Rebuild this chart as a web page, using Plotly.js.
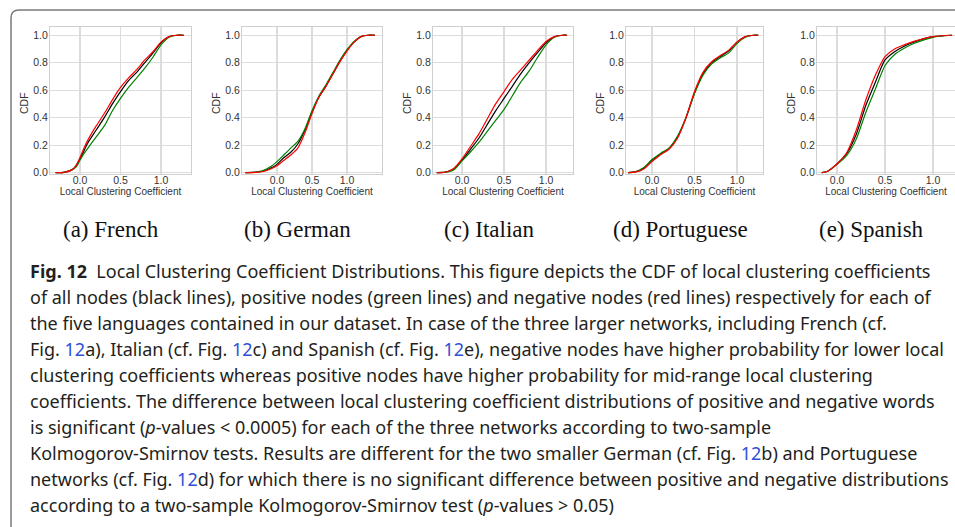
<!DOCTYPE html>
<html>
<head>
<meta charset="utf-8">
<script src="https://cdn.plot.ly/plotly-3.0.1.min.js"></script>
<style>html,body{margin:0;padding:0;background:#fff;}#chart{width:955px;height:527px;}</style>
</head>
<body>
<div id="chart"></div>
<script>
// ---- data ----
const languages = ["French", "German", "Italian", "Portuguese", "Spanish"];
const subLabels = ["(a) French", "(b) German", "(c) Italian", "(d) Portuguese", "(e) Spanish"];
const seriesNames = ["All nodes", "Positive nodes", "Negative nodes"];

// French
const frenchX     = [-0.3, -0.2, -0.1, -0.05, 0, 0.05, 0.1, 0.2, 0.3, 0.4, 0.5, 0.6, 0.7, 0.8, 0.9, 1.0, 1.1, 1.2, 1.28];
const frenchAll   = [0, 0.002, 0.02, 0.05, 0.10, 0.16, 0.22, 0.31, 0.40, 0.50, 0.59, 0.67, 0.73, 0.80, 0.87, 0.945, 0.99, 1.0, 1.0];
const frenchPos   = [0, 0.002, 0.02, 0.04, 0.09, 0.14, 0.18, 0.26, 0.34, 0.45, 0.54, 0.62, 0.69, 0.76, 0.84, 0.93, 0.985, 1.0, 1.0];
const frenchNeg   = [0, 0.002, 0.02, 0.05, 0.11, 0.18, 0.24, 0.34, 0.43, 0.53, 0.62, 0.69, 0.75, 0.82, 0.88, 0.95, 0.99, 1.0, 1.0];

// German
const germanX     = [-0.45, -0.3, -0.2, -0.1, 0, 0.1, 0.2, 0.3, 0.4, 0.5, 0.6, 0.7, 0.8, 0.9, 1.0, 1.1, 1.2, 1.3, 1.4];
const germanAll   = [0, 0.003, 0.01, 0.03, 0.06, 0.11, 0.15, 0.21, 0.31, 0.44, 0.55, 0.63, 0.72, 0.81, 0.89, 0.95, 0.99, 1.0, 1.0];
const germanPos   = [0, 0.004, 0.015, 0.04, 0.08, 0.13, 0.18, 0.23, 0.32, 0.45, 0.56, 0.64, 0.73, 0.82, 0.895, 0.955, 0.99, 1.0, 1.0];
const germanNeg   = [0, 0.002, 0.008, 0.025, 0.05, 0.09, 0.13, 0.18, 0.29, 0.43, 0.55, 0.63, 0.72, 0.81, 0.885, 0.95, 0.99, 1.0, 1.0];

// Italian
const italianX    = [-0.3, -0.2, -0.1, 0, 0.1, 0.2, 0.3, 0.4, 0.5, 0.6, 0.7, 0.8, 0.9, 1.0, 1.1, 1.2, 1.25];
const italianAll  = [0, 0.003, 0.025, 0.09, 0.17, 0.25, 0.35, 0.45, 0.54, 0.63, 0.72, 0.80, 0.875, 0.945, 0.99, 1.0, 1.0];
const italianPos  = [0, 0.003, 0.02, 0.085, 0.15, 0.22, 0.30, 0.38, 0.46, 0.56, 0.66, 0.74, 0.84, 0.93, 0.985, 1.0, 1.0];
const italianNeg  = [0, 0.003, 0.03, 0.10, 0.19, 0.28, 0.39, 0.50, 0.59, 0.68, 0.75, 0.82, 0.89, 0.955, 0.99, 1.0, 1.0];

// Portuguese
const portugueseX   = [-0.28, -0.2, -0.1, 0, 0.1, 0.2, 0.3, 0.4, 0.5, 0.6, 0.7, 0.8, 0.9, 1.0, 1.1, 1.2, 1.25];
const portugueseAll = [0, 0.005, 0.03, 0.09, 0.135, 0.175, 0.26, 0.40, 0.58, 0.72, 0.80, 0.845, 0.885, 0.95, 0.99, 1.0, 1.0];
const portuguesePos = [0, 0.006, 0.035, 0.095, 0.14, 0.18, 0.265, 0.40, 0.575, 0.71, 0.79, 0.835, 0.87, 0.94, 0.985, 1.0, 1.0];
const portugueseNeg = [0, 0.004, 0.025, 0.08, 0.13, 0.17, 0.25, 0.40, 0.59, 0.73, 0.805, 0.85, 0.89, 0.95, 0.99, 1.0, 1.0];

// Spanish
const spanishX    = [-0.16, -0.1, 0, 0.1, 0.2, 0.3, 0.4, 0.5, 0.6, 0.7, 0.8, 1.0, 1.2];
const spanishAll  = [0, 0.01, 0.065, 0.14, 0.28, 0.49, 0.66, 0.82, 0.88, 0.92, 0.95, 0.99, 1.0];
const spanishPos  = [0, 0.01, 0.06, 0.125, 0.245, 0.44, 0.61, 0.78, 0.86, 0.905, 0.94, 0.985, 1.0];
const spanishNeg  = [0, 0.01, 0.065, 0.145, 0.31, 0.53, 0.71, 0.845, 0.90, 0.93, 0.955, 0.99, 1.0];

const yTickVals = [0, 0.2, 0.4, 0.6, 0.8, 1.0];
const xTickVals = [0, 0.5, 1.0];
const xTitle = "Local Clustering Coefficient";
const yTitle = "CDF";

const captionLines = [
  "<b>Fig. 12</b>&#160; Local Clustering Coefficient Distributions. This figure depicts the CDF of local clustering coefficients",
  "of all nodes (black lines), positive nodes (green lines) and negative nodes (red lines) respectively for each of",
  "the five languages contained in our dataset. In case of the three larger networks, including French (cf.",
  "Fig. <span style='color:#2f4fd8'>12</span>a), Italian (cf. Fig. <span style='color:#2f4fd8'>12</span>c) and Spanish (cf. Fig. <span style='color:#2f4fd8'>12</span>e), negative nodes have higher probability for lower local",
  "clustering coefficients whereas positive nodes have higher probability for mid-range local clustering",
  "coefficients. The difference between local clustering coefficient distributions of positive and negative words",
  "is significant (<i>p</i>-values &lt; 0.0005) for each of the three networks according to two-sample",
  "Kolmogorov-Smirnov tests. Results are different for the two smaller German (cf. Fig. <span style='color:#2f4fd8'>12</span>b) and Portuguese",
  "networks (cf. Fig. <span style='color:#2f4fd8'>12</span>d) for which there is no significant difference between positive and negative distributions",
  "according to a two-sample Kolmogorov-Smirnov test (<i>p</i>-values &gt; 0.05)"
];

// ---- layout geometry (pixels) ----
const W = 955, H = 527;
const panels = [
  {x: frenchX, all: frenchAll, pos: frenchPos, neg: frenchNeg, left: 50, right: 191, range: [-0.37, 1.37], cap: 111},
  {x: germanX, all: germanAll, pos: germanPos, neg: germanNeg, left: 242, right: 382, range: [-0.5, 1.5], cap: 297},
  {x: italianX, all: italianAll, pos: italianPos, neg: italianNeg, left: 433, right: 573, range: [-0.345, 1.32], cap: 489},
  {x: portugueseX, all: portugueseAll, pos: portuguesePos, neg: portugueseNeg, left: 626, right: 763, range: [-0.306, 1.306], cap: 680},
  {x: spanishX, all: spanishAll, pos: spanishPos, neg: spanishNeg, left: 817, right: 955, range: [-0.21, 1.23], cap: 871}
];
const plotTop = 27, plotBottom = 174;
const px = v => v / W;
const py = v => 1 - v / H;

const traces = [];
const layout = {
  width: W, height: H,
  margin: {l: 0, r: 0, t: 0, b: 0},
  paper_bgcolor: "#ffffff",
  plot_bgcolor: "#ffffff",
  showlegend: false,
  font: {family: "Liberation Sans, Arial, sans-serif", size: 10, color: "#333333"},
  annotations: [],
  shapes: []
};

const colors = ["#000000", "#008000", "#ff0000"];
panels.forEach((p, i) => {
  const n = i === 0 ? "" : String(i + 1);
  const ys = [p.all, p.pos, p.neg];
  ys.forEach((yv, k) => {
    traces.push({
      type: "scatter", mode: "lines",
      x: p.x, y: yv,
      name: languages[i] + " – " + seriesNames[k],
      line: {color: colors[k], width: 1.2, shape: "spline", smoothing: 0.7},
      xaxis: "x" + n, yaxis: "y" + n,
      hoverinfo: "skip"
    });
  });
  layout["xaxis" + n] = {
    domain: [px(p.left), px(p.right)],
    anchor: "y" + n,
    range: p.range,
    tickvals: xTickVals, tickformat: ".1f",
    showgrid: true, gridcolor: "#dcdcdc", gridwidth: 1.3,
    zeroline: false,
    showline: true, mirror: true, linecolor: "#cfcfcf", linewidth: 1,
    ticks: "", ticklabelstandoff: -4,
    tickfont: {size: 10.5, color: "#333333"},
    title: {text: xTitle, font: {size: 10, color: "#333333"}, standoff: 0}
  };
  layout["yaxis" + n] = {
    domain: [py(plotBottom), py(plotTop)],
    anchor: "x" + n,
    range: [-0.01, 1.06],
    tickvals: yTickVals, tickformat: ".1f",
    showgrid: true, gridcolor: "#dcdcdc", gridwidth: 1.3,
    zeroline: false,
    showline: true, mirror: true, linecolor: "#cfcfcf", linewidth: 1,
    ticks: "", ticklabelstandoff: -1,
    tickfont: {size: 10.5, color: "#333333"}
  };
  layout.annotations.push({
    xref: "paper", yref: "paper", x: px(p.left - 26), y: py(103),
    xanchor: "center", yanchor: "middle", showarrow: false, textangle: -90,
    text: yTitle, font: {size: 10.5, color: "#333333"}
  });
  layout.annotations.push({
    xref: "paper", yref: "paper", x: px(p.cap), y: py(229),
    xanchor: "center", yanchor: "middle", showarrow: false,
    text: subLabels[i],
    font: {family: "Liberation Serif, DejaVu Serif, serif", size: 23, color: "#111111"}
  });
});

const lineStart = 270.5, lineStep = 26.0;
captionLines.forEach((t, j) => {
  layout.annotations.push({
    xref: "paper", yref: "paper", x: px(28), y: py(lineStart + j * lineStep),
    xanchor: "left", yanchor: "middle", showarrow: false, align: "left",
    text: t,
    font: {family: "Noto Sans, Open Sans, sans-serif", size: 18, color: "#231f20"}
  });
});

// rounded frame around the figure
layout.shapes.push({
  type: "path", xref: "paper", yref: "paper",
  path: `M ${px(11)},${py(527)} L ${px(11)},${py(18)} Q ${px(11)},${py(10)} ${px(19)},${py(10)} L ${px(955)},${py(10)}`,
  line: {color: "#7a7a7a", width: 1.5}
});

Plotly.newPlot("chart", traces, layout, {staticPlot: true, displayModeBar: false});
</script>
</body>
</html>
